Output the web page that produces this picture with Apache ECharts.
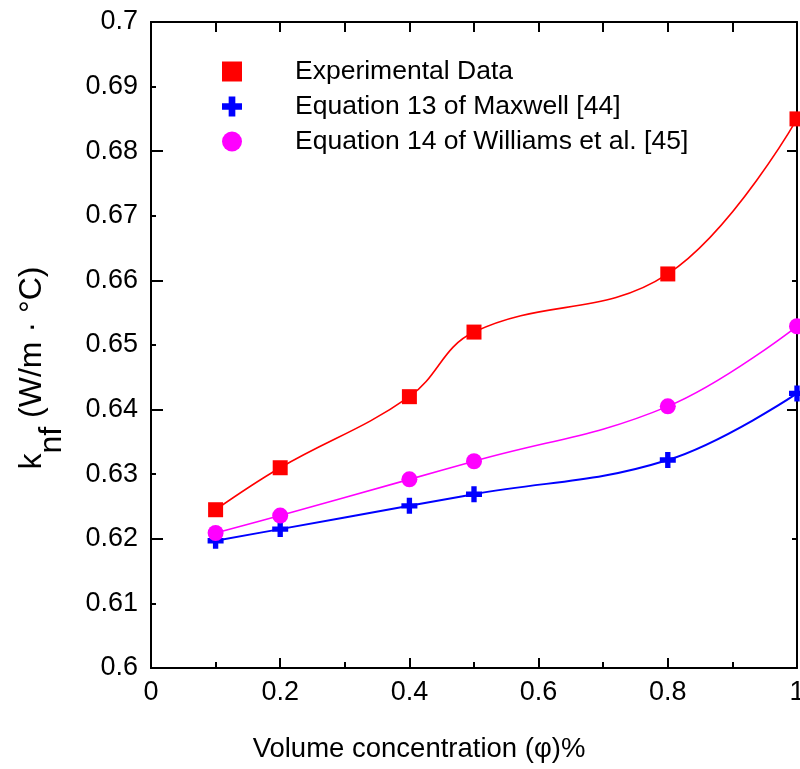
<!DOCTYPE html>
<html>
<head>
<meta charset="utf-8">
<script src="https://cdn.jsdelivr.net/npm/echarts@6/dist/echarts.min.js"></script>
<style>
html,body{margin:0;padding:0;background:#fff;}
#chart{width:800px;height:769px;}
</style>
</head>
<body>
<div id="chart"></div>
<script>
// ---- data ----
const volumeConcentration = [0.1, 0.2, 0.4, 0.5, 0.8, 1.0];
const experimentalData = [0.6245, 0.6310, 0.6420, 0.6520, 0.6610, 0.6850];
const maxwellEq13 = [0.6197, 0.6215, 0.6251, 0.6269, 0.6322, 0.6425];
const williamsEq14 = [0.6209, 0.6236, 0.6292, 0.6320, 0.6405, 0.6529];
const seriesNames = ['Experimental Data', 'Equation 13 of Maxwell [44]', 'Equation 14 of Williams et al. [45]'];
const xTitle = 'Volume concentration (φ)%';

const FONT = 'Liberation Sans, Arial, sans-serif';
const crossPath = 'path://M1,0H2V1H3V2H2V3H1V2H0V1H1Z';

function pairs(ys) { return volumeConcentration.map((x, i) => [x, ys[i]]); }

const chart = echarts.init(document.getElementById('chart'), null, {renderer: 'canvas'});
const axisLine = {show: true, onZero: false, lineStyle: {color: '#000', width: 2}};

const option = {
  backgroundColor: '#fff',
  animation: false,
  grid: {left: 151, right: 3, top: 22, bottom: 101, containLabel: false, outerBoundsMode: 'none'},
  legend: {
    orient: 'vertical', left: 222, top: 58, padding: 0,
    itemWidth: 20, itemHeight: 20, itemGap: 8,
    textStyle: {fontSize: 26.5, fontFamily: FONT, color: '#000', padding: [0, 0, 0, 48]},
    data: [
      {name: seriesNames[0], icon: 'rect'},
      {name: seriesNames[1], icon: crossPath},
      {name: seriesNames[2], icon: 'circle'}
    ]
  },
  xAxis: [
    {
      type: 'value', position: 'bottom', min: 0, max: 1, interval: 0.2,
      axisLine: axisLine,
      axisTick: {show: true, inside: true, length: 10, lineStyle: {color: '#000', width: 2}},
      minorTick: {show: true, splitNumber: 2, length: 6, lineStyle: {color: '#000', width: 2}},
      splitLine: {show: false},
      axisLabel: {fontSize: 27, fontFamily: FONT, color: '#000', margin: 11},
      name: xTitle, nameLocation: 'middle', nameGap: 67,
      nameTextStyle: {fontSize: 27.5, fontFamily: FONT, color: '#000', padding: [0, 110, 0, 0]}
    },
    {
      type: 'value', position: 'top', min: 0, max: 1, interval: 0.1,
      axisLine: axisLine,
      axisTick: {show: true, inside: true, length: 10, lineStyle: {color: '#000', width: 2}},
      splitLine: {show: false}, axisLabel: {show: false}
    }
  ],
  yAxis: [
    {
      type: 'value', position: 'left', min: 0.6, max: 0.7, interval: 0.01,
      axisLine: axisLine,
      axisTick: {show: false},
      splitLine: {show: false},
      axisLabel: {fontSize: 27, fontFamily: FONT, color: '#000', margin: 13},
      name: '{k|k}{sub|nf}{u| (W/m · °C)}', nameLocation: 'middle', nameGap: 83, nameRotate: 90,
      nameTextStyle: {
        fontFamily: FONT, color: '#000', padding: [0, 46, 0, 0],
        rich: {
          k: {fontSize: 32, fontFamily: FONT, color: '#000', lineHeight: 72, verticalAlign: 'middle'},
          sub: {fontSize: 32, fontFamily: FONT, color: '#000', lineHeight: 32, verticalAlign: 'bottom'},
          u: {fontSize: 32, fontFamily: FONT, color: '#000', lineHeight: 72, verticalAlign: 'middle'}
        }
      }
    },
    {
      type: 'value', position: 'left', min: 0.6, max: 0.7, interval: 0.02,
      axisLine: axisLine,
      axisTick: {show: true, inside: true, length: 12, lineStyle: {color: '#000', width: 2}},
      minorTick: {show: true, splitNumber: 2, length: 5, lineStyle: {color: '#000', width: 2}},
      splitLine: {show: false}, axisLabel: {show: false}
    },
    {
      type: 'value', position: 'right', min: 0.6, max: 0.7, interval: 0.04,
      axisLine: axisLine,
      axisTick: {show: true, inside: true, length: 10, lineStyle: {color: '#000', width: 2}},
      minorTick: {show: true, splitNumber: 2, length: 5, lineStyle: {color: '#000', width: 2}},
      splitLine: {show: false}, axisLabel: {show: false}
    }
  ],
  series: [
    {
      name: seriesNames[0], type: 'line', xAxisIndex: 0, yAxisIndex: 0,
      data: pairs(experimentalData), smooth: 0.4,
      symbol: 'rect', symbolSize: 15, showAllSymbol: true,
      lineStyle: {color: '#ff0000', width: 1.6}, itemStyle: {color: '#ff0000'}
    },
    {
      name: seriesNames[1], type: 'line', xAxisIndex: 0, yAxisIndex: 0,
      data: pairs(maxwellEq13), smooth: 0.4,
      symbol: crossPath, symbolSize: 16, showAllSymbol: true,
      lineStyle: {color: '#0000ff', width: 2}, itemStyle: {color: '#0000ff'}
    },
    {
      name: seriesNames[2], type: 'line', xAxisIndex: 0, yAxisIndex: 0,
      data: pairs(williamsEq14), smooth: 0.4,
      symbol: 'circle', symbolSize: 16, showAllSymbol: true,
      lineStyle: {color: '#ff00ff', width: 1.6}, itemStyle: {color: '#ff00ff'}
    }
  ]
};
chart.setOption(option);
</script>
</body>
</html>
